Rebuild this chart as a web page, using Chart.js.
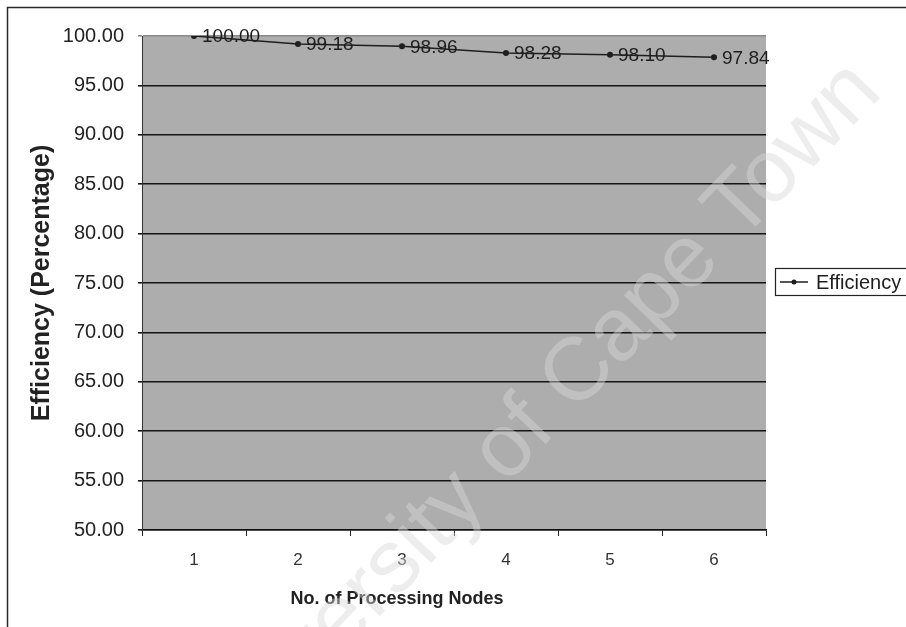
<!DOCTYPE html>
<html>
<head>
<meta charset="utf-8">
<title>Efficiency</title>
<script src="https://cdn.jsdelivr.net/npm/chart.js@4/dist/chart.umd.min.js"></script>
<style>
    body { margin: 0; background: #fff; }
    #wrap { width: 906px; height: 627px; }
</style>
</head>
<body>
<div id="wrap"><canvas id="chartEfficiency" width="906" height="627"></canvas></div>
<script>
const nodeLabels = ['1', '2', '3', '4', '5', '6'];
const efficiencyValues = [100.00, 99.18, 98.96, 98.28, 98.10, 97.84];
const yTickMin = 50;
const yTickMax = 100;
const yTickStep = 5;
const seriesName = 'Efficiency';
const xTitle = 'No. of Processing Nodes';
const yTitle = 'Efficiency (Percentage)';
const watermarkText = 'University of Cape Town';

const FONT = "'Liberation Sans', Arial, Helvetica, sans-serif";

class EfficiencyChart {
    constructor() {
        this.ctx = document.getElementById('chartEfficiency').getContext('2d');
        this.init();
    }

    init() {
        this.chart = new Chart(this.ctx, {
            type: 'line',
            data: {
                labels: nodeLabels,
                datasets: [{
                    label: seriesName,
                    data: efficiencyValues,
                    borderColor: '#1e1e1e',
                    borderWidth: 1.5,
                    backgroundColor: '#1e1e1e',
                    pointRadius: 3,
                    pointBackgroundColor: '#1e1e1e',
                    pointBorderWidth: 0,
                    tension: 0,
                    fill: false
                }]
            },
            options: {
                responsive: false,
                animation: false,
                events: [],
                layout: { padding: { left: 0, top: 36, right: 140, bottom: 0 } },
                plugins: {
                    legend: { display: false },
                    tooltip: { enabled: false }
                },
                scales: {
                    x: {
                        offset: true,
                        grid: {
                            offset: true,
                            drawOnChartArea: false,
                            drawTicks: true,
                            tickLength: 6,
                            color: '#222'
                        },
                        border: { display: true, color: '#111', width: 1.5 },
                        ticks: { color: '#333', padding: 14, font: { family: FONT, size: 17 } },
                        afterFit: (scale) => { scale.height = 97; }
                    },
                    y: {
                        min: yTickMin,
                        max: yTickMax,
                        grid: {
                            color: (c) => c.tick && c.tick.value === yTickMax ? '#8a8a8a' : '#151515',
                            lineWidth: 1.6,
                            tickLength: 4
                        },
                        border: { display: true, color: '#333', width: 1 },
                        ticks: {
                            stepSize: yTickStep,
                            color: '#222',
                            padding: 14,
                            font: { family: FONT, size: 20 },
                            callback: (v) => Number(v).toFixed(2)
                        },
                        title: {
                            display: true,
                            text: yTitle,
                            color: '#222',
                            font: { family: FONT, size: 25, weight: 'bold' },
                            padding: { top: 27, bottom: 0 }
                        },
                        afterFit: (scale) => { scale.width = 142; }
                    }
                }
            },
            plugins: [this.backgroundPlugin(), this.labelPlugin(), this.legendPlugin(), this.watermarkPlugin()]
        });
    }

    backgroundPlugin() {
        return {
            id: 'bg',
            beforeDraw(chart) {
                const { ctx, chartArea: a } = chart;
                ctx.save();
                ctx.fillStyle = '#fff';
                ctx.fillRect(0, 0, chart.width, chart.height);
                ctx.strokeStyle = '#2a2a2a';
                ctx.lineWidth = 1.5;
                ctx.strokeRect(7.5, 7.5, chart.width + 20, chart.height + 20);
                ctx.fillStyle = '#adadad';
                ctx.fillRect(a.left, a.top, a.right - a.left, a.bottom - a.top);
                ctx.restore();
            }
        };
    }

    labelPlugin() {
        return {
            id: 'valueLabels',
            afterDatasetsDraw(chart) {
                const { ctx } = chart;
                const meta = chart.getDatasetMeta(0);
                ctx.save();
                ctx.font = `19px ${FONT}`;
                ctx.fillStyle = '#1e1e1e';
                ctx.textAlign = 'left';
                ctx.textBaseline = 'middle';
                meta.data.forEach((pt, i) => {
                    ctx.fillText(efficiencyValues[i].toFixed(2), pt.x + 8, pt.y + 1);
                });
                ctx.restore();
            },
            afterDraw(chart) {
                // x title sits left of the plot centre in the original
                const { ctx } = chart;
                ctx.save();
                ctx.font = `bold 18px ${FONT}`;
                ctx.fillStyle = '#222';
                ctx.textAlign = 'center';
                ctx.textBaseline = 'middle';
                ctx.fillText(xTitle, 397, 599);
                ctx.restore();
            }
        };
    }

    legendPlugin() {
        return {
            id: 'boxLegend',
            afterDraw(chart) {
                const { ctx, chartArea: a } = chart;
                const x = a.right + 9;
                const y = (a.top + a.bottom) / 2 - 15;
                ctx.save();
                ctx.strokeStyle = '#222';
                ctx.lineWidth = 1.2;
                ctx.strokeRect(x + 0.5, y + 0.5, 200, 27);
                const ly = y + 14;
                ctx.strokeStyle = '#1e1e1e';
                ctx.lineWidth = 1.5;
                ctx.beginPath();
                ctx.moveTo(x + 5, ly);
                ctx.lineTo(x + 33, ly);
                ctx.stroke();
                ctx.fillStyle = '#1e1e1e';
                ctx.beginPath();
                ctx.arc(x + 19, ly, 2.5, 0, Math.PI * 2);
                ctx.fill();
                ctx.font = `20px ${FONT}`;
                ctx.textBaseline = 'middle';
                ctx.fillText(chart.data.datasets[0].label, x + 41, ly + 1);
                ctx.restore();
            }
        };
    }

    watermarkPlugin() {
        return {
            id: 'watermark',
            afterDraw(chart) {
                const { ctx } = chart;
                ctx.save();
                ctx.translate(533, 422);
                ctx.rotate(-46 * Math.PI / 180);
                ctx.font = `89px ${FONT}`;
                ctx.fillStyle = 'rgba(215, 215, 215, 0.45)';
                ctx.textAlign = 'center';
                ctx.textBaseline = 'middle';
                ctx.fillText(watermarkText, 0, 0);
                ctx.restore();
            }
        };
    }
}

new EfficiencyChart();
</script>
</body>
</html>
